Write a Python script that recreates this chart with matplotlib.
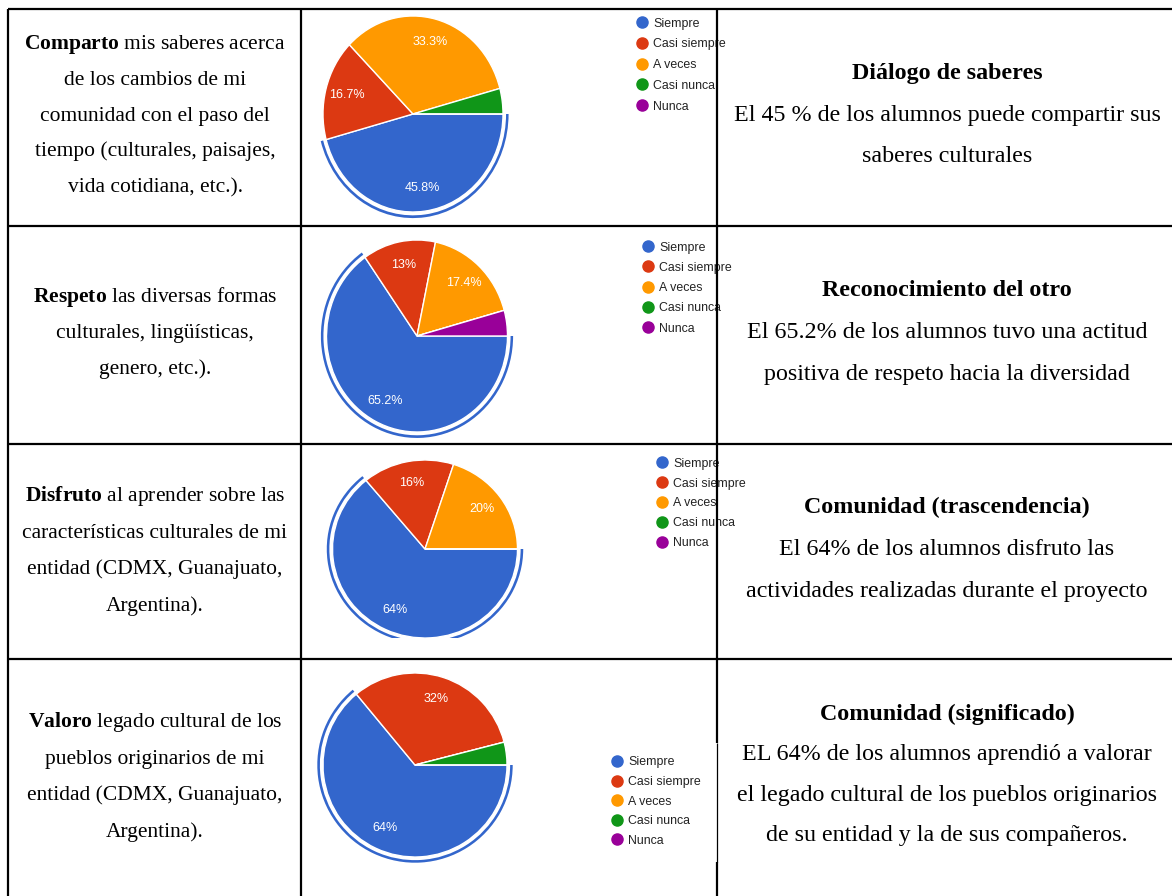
import matplotlib
matplotlib.use("Agg")
import matplotlib.pyplot as plt
from matplotlib.patches import Wedge
import numpy as np

W, H, DPI = 1172, 896, 100

plt.rcParams.update({
    "font.family": "Liberation Serif",
    "mathtext.fontset": "custom",
    "mathtext.rm": "Liberation Serif",
    "mathtext.bf": "Liberation Serif:bold",
})

# ── Survey data ──────────────────────────────────────────────────────────────
categories = ["Siempre", "Casi siempre", "A veces", "Casi nunca", "Nunca"]
colors = ["#3366CC", "#DC3912", "#FF9900", "#109618", "#990099"]

comparto = [45.8, 16.7, 33.3, 4.2, 0]
respeto = [65.2, 13, 17.4, 0, 4.3]
disfruto = [64, 16, 20, 0, 0]
valoro = [64, 32, 0, 4, 0]

left_text = [
    ["$\\mathbf{Comparto}$ mis saberes acerca", "de los cambios de mi",
     "comunidad con el paso del", "tiempo (culturales, paisajes,",
     "vida cotidiana, etc.)."],
    ["$\\mathbf{Respeto}$ las diversas formas", "culturales, lingüísticas,",
     "genero, etc.)."],
    ["$\\mathbf{Disfruto}$ al aprender sobre las",
     "características culturales de mi", "entidad (CDMX, Guanajuato,",
     "Argentina)."],
    ["$\\mathbf{Valoro}$ legado cultural de los", "pueblos originarios de mi",
     "entidad (CDMX, Guanajuato,", "Argentina)."],
]
titles = ["Diálogo de saberes", "Reconocimiento del otro",
          "Comunidad (trascendencia)", "Comunidad (significado)"]
right_text = [
    ["El 45 % de los alumnos puede compartir sus", "saberes culturales"],
    ["El 65.2% de los alumnos tuvo una actitud",
     "positiva de respeto hacia la diversidad"],
    ["El 64% de los alumnos disfruto las",
     "actividades realizadas durante el proyecto"],
    ["EL 64% de los alumnos aprendió a valorar",
     "el legado cultural de los pueblos originarios",
     "de su entidad y la de sus compañeros."],
]

# ── Layout (pixels, y measured from the top) ────────────────────────────────
pie_boxes = [(302, 10, 716, 225), (302, 227, 716, 443),
             (302, 446, 716, 638), (302, 661, 716, 896)]
pie_centers = [(413, 114), (417, 336), (425, 549), (415, 765)]
pie_radii = [(90, 98), (90.5, 96), (92.5, 89), (92, 92)]
legend_pos = [(642, 22), (648, 246), (662, 462), (617, 761)]
legend_step = [20.8, 20.3, 20, 19.6]

left_base = [(49, 35.8), (302, 36), (501, 36.6), (727, 36.6)]
right_base = [(79, 42, 41.5), (296, 42, 42), (513, 42, 41.5), (720, 40, 40.5)]

fig = plt.figure(figsize=(W / DPI, H / DPI), dpi=DPI)
fig.patch.set_facecolor("white")


def pie_panel(values, box, center, radii, leg, step):
    x0, y0, x1, y1 = box
    ax = fig.add_axes([x0 / W, 1 - y1 / H, (x1 - x0) / W, (y1 - y0) / H])
    wedges, _ = ax.pie(values, colors=colors, startangle=0, counterclock=False,
                       frame=True,
                       wedgeprops=dict(edgecolor="white", linewidth=1))
    # highlight ring around the first slice
    w0 = wedges[0]
    ax.add_patch(Wedge((0, 0), 1.062, w0.theta1, w0.theta2, width=0.028,
                       facecolor=colors[0], edgecolor="none"))
    for w, v in zip(wedges, values):
        if v < 5:
            continue
        mid = np.deg2rad((w.theta1 + w.theta2) / 2)
        ax.text(0.76 * np.cos(mid), 0.76 * np.sin(mid), f"{v:g}%",
                color="white", fontsize=9, family="Liberation Sans",
                ha="center", va="center")
    cx, cy = center
    rx, ry = radii
    ax.set_aspect("auto")
    ax.set_xlim((x0 - cx) / rx, (x1 - cx) / rx)
    ax.set_ylim((cy - y1) / ry, (cy - y0) / ry)
    ax.axis("off")

    # legend drawn in pixel units on the figure
    lx, ly = leg
    for i, (name, c) in enumerate(zip(categories, colors)):
        yy = 1 - (ly + i * step) / H
        fig.lines.append(plt.Line2D([lx / W], [yy], marker="o", markersize=8,
                                    color=c, transform=fig.transFigure))
        fig.text((lx + 11) / W, yy, name, fontsize=8.9, color="#222222",
                 family="Liberation Sans", ha="left", va="center_baseline",
                 zorder=2)


for vals, box, c, r, leg, st in zip([comparto, respeto, disfruto, valoro],
                                    pie_boxes, pie_centers, pie_radii,
                                    legend_pos, legend_step):
    pie_panel(vals, box, c, r, leg, st)

# ── Table overlay: text and borders ─────────────────────────────────────────
top = fig.add_axes([0, 0, 1, 1], zorder=10)
top.set_xlim(0, W)
top.set_ylim(H, 0)
top.axis("off")
top.patch.set_alpha(0)

for lines, (y0, dy) in zip(left_text, left_base):
    for i, s in enumerate(lines):
        top.text(155, y0 + i * dy, s, fontsize=15.5, ha="center",
                 va="baseline")

for t, lines, (y0, gap, dy) in zip(titles, right_text, right_base):
    top.text(947, y0, t, fontsize=17.3, weight="bold", ha="center",
             va="baseline")
    for i, s in enumerate(lines):
        top.text(947, y0 + gap + i * dy, s, fontsize=17.3, ha="center",
                 va="baseline")

lw = 1.6
for y in [9, 226, 444, 659]:
    top.plot([8, W], [y, y], color="black", lw=lw, solid_capstyle="butt")
for x in [8, 301]:
    top.plot([x, x], [9, H], color="black", lw=lw, solid_capstyle="butt")
top.plot([717, 717], [9, 743], color="black", lw=lw, solid_capstyle="butt")
top.plot([717, 717], [743, 862], color="black", lw=0.9, solid_capstyle="butt")
top.plot([717, 717], [862, H], color="black", lw=lw, solid_capstyle="butt")

fig.savefig("out.png", dpi=DPI)
